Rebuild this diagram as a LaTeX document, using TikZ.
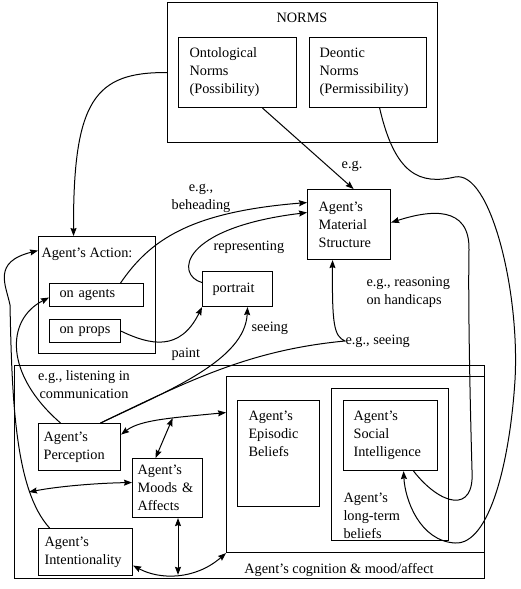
\documentclass[tikz,border=0pt]{standalone}
\usepackage{fontspec}
\setmainfont{Liberation Serif}
\usetikzlibrary{arrows.meta,positioning}

\begin{document}
\begin{tikzpicture}[x=1pt,y=-1pt,>={Stealth[length=8pt,width=6pt,inset=1pt]},line width=1pt,
  font=\fontsize{14.3}{18}\selectfont,
  box/.style={draw,line width=1.1pt,inner sep=0pt,anchor=north west},
  lbl/.style={inner sep=0pt,align=left}]

            \useasboundingbox (0,0) rectangle (520,589);

            \node[box,minimum width=270pt,minimum height=140pt] (norms) at (167,2) {};
            \node[lbl,anchor=base] (normst) at (302,22) {NORMS};
            \node[box,text width=96pt,inner xsep=11pt,minimum height=70pt,align=left] (onto) at (178,37) {Ontological\\Norms\\(Possibility)};
            \node[box,text width=97pt,inner xsep=10pt,minimum height=70pt,align=left] (deon) [right=12pt of onto] {Deontic\\Norms\\(Permissibility)};
            \node[box,text width=61pt,inner xsep=11pt,minimum height=70pt,align=left] (mat) at (307,189) {Agent's\\Material\\Structure};

            \node[box,minimum width=117pt,minimum height=117pt] (act) at (38,236) {};
            \node[lbl,anchor=base west] (actt) at (41,257) {Agent's Action:};
            \node[box,text width=74pt,inner xsep=10pt,minimum height=23pt,align=left] (onag) at (49,283) {on agents};
            \node[box,text width=51pt,inner xsep=10pt,minimum height=23pt,align=left] (onpr) [below=12pt of onag.south west,anchor=north west] {on props};
            \node[box,text width=50pt,inner xsep=10pt,minimum height=35pt,align=left] (port) at (202,271) {portrait};

            \node[box,minimum width=470pt,minimum height=213pt] (mind) at (14,365) {};
            \node[box,minimum width=258pt,minimum height=176pt] (cogn) at (226,376) {};
            \node[lbl,anchor=base] (cognt) at (339,573) {Agent's cognition \& mood/affect};
            \node[box,minimum width=82pt,minimum height=106pt] (epi) at (237,400) {};
            \node[lbl,anchor=base west] (epit) at (248,456) {Agent's\\Episodic\\Beliefs};
            \node[box,minimum width=117pt,minimum height=152pt] (ltb) at (331,388) {};
            \node[lbl,anchor=base west] (ltbt) at (343,538) {Agent's\\long-term\\beliefs};
            \node[box,text width=74pt,inner xsep=10pt,minimum height=70pt,align=left] (soc) at (343,400) {Agent's\\Social\\Intelligence};
            \node[box,text width=72pt,inner xsep=5pt,minimum height=47pt,align=left] (perc) at (38,423) {Agent's\\Perception};
            \node[box,text width=60pt,inner xsep=5pt,minimum height=59pt,align=left] (mood) at (132,458) {Agent's\\Moods \&\\Affects};
            \node[box,text width=82pt,inner xsep=6pt,minimum height=47pt,align=left] (intn) at (38,528) {Agent's\\Intentionality};

            \node[lbl,anchor=base] (leg) at (352,168) {e.g.};
            \node[lbl,anchor=base,align=center] (lbehead) at (201,209) {e.g.,\\beheading};
            \node[lbl,anchor=base west] (lrepr) at (213,250) {representing};
            \node[lbl,anchor=base west] (lpaint) at (171,357) {paint};
            \node[lbl,anchor=base west] (lseeing) at (251,331) {seeing};
            \node[lbl,anchor=base west] (lreason) at (366,304) {e.g., reasoning\\on handicaps};
            \node[lbl,anchor=west] (lseeing2) at (345,341) {e.g., seeing};
            \node[lbl,anchor=base,align=center] (llisten) at (84,398) {e.g., listening in\\communication};
            \coordinate (lfree) at (29,492);

            \draw[->] (norms.west) .. controls (95,72) and (73,100) .. ([xshift=-23.5pt]act.north);
            \draw[->] ([xshift=25pt]onto.south) -- ([xshift=4.5pt]mat.north);
            \draw[->] ([xshift=24pt]onag.north) .. controls (150,240) and (190,212) .. ([yshift=22pt]mat.west);
            \draw[->] ([yshift=6.5pt]port.west) .. controls (175,275) and (180,228) .. ([yshift=12pt]mat.west);
            \draw[->] (onpr.east) .. controls (150,345) and (180,352) .. (port.south west);
            \draw[->] ([xshift=21pt]perc.north) .. controls (170,390) and (245,360) .. ([xshift=10pt]port.south);
            \draw[->] ([xshift=21pt]perc.north) .. controls (190,380) and (250,350) .. (lseeing2.west) .. controls (334,336) and (332,325) .. ([xshift=-16.5pt]mat.south);
            \draw[->] ([xshift=-19pt]perc.north) .. controls (5,375) and (5,320) .. ([yshift=-2.5pt]onag.west);
            \draw[->] ([xshift=-36pt]intn.north) .. controls (15,490) and (12,400) .. (10,305) .. controls (6,285) and (-8,262) .. ([yshift=44.5pt]act.west);
            \draw[<->] ([yshift=12.5pt]perc.east) .. controls (140,420) and (170,418) .. ([yshift=52pt]cogn.west) coordinate[pos=0.62] (pcmid);
            \draw[<->] (pcmid) -- ([xshift=-12pt]mood.north);
            \draw[<->] (lfree) .. controls (60,486) and (100,483) .. ([yshift=5.5pt]mood.west);
            \draw[<->] ([yshift=-13.5pt]intn.east) .. controls (160,580) and (195,580) .. (cogn.south west) coordinate[pos=0.5] (icmid);
            \draw[<->] (icmid |- mood.south) -- (icmid);
            \draw[->] ([xshift=11.5pt]deon.south) .. controls (395,175) and (420,185) .. (455,177) .. controls (490,170) and (520,290) .. (515,380) .. controls (510,460) and (490,545) .. (455,543) .. controls (420,541) and (405,500) .. ([xshift=13pt]soc.south);
            \draw[->] ([xshift=23pt]soc.south) .. controls (440,505) and (475,515) .. (472,470) .. controls (470,400) and (468,300) .. (469,250) .. controls (470,205) and (430,210) .. ([yshift=2pt]mat.east);

        \end{tikzpicture}
\end{document}
